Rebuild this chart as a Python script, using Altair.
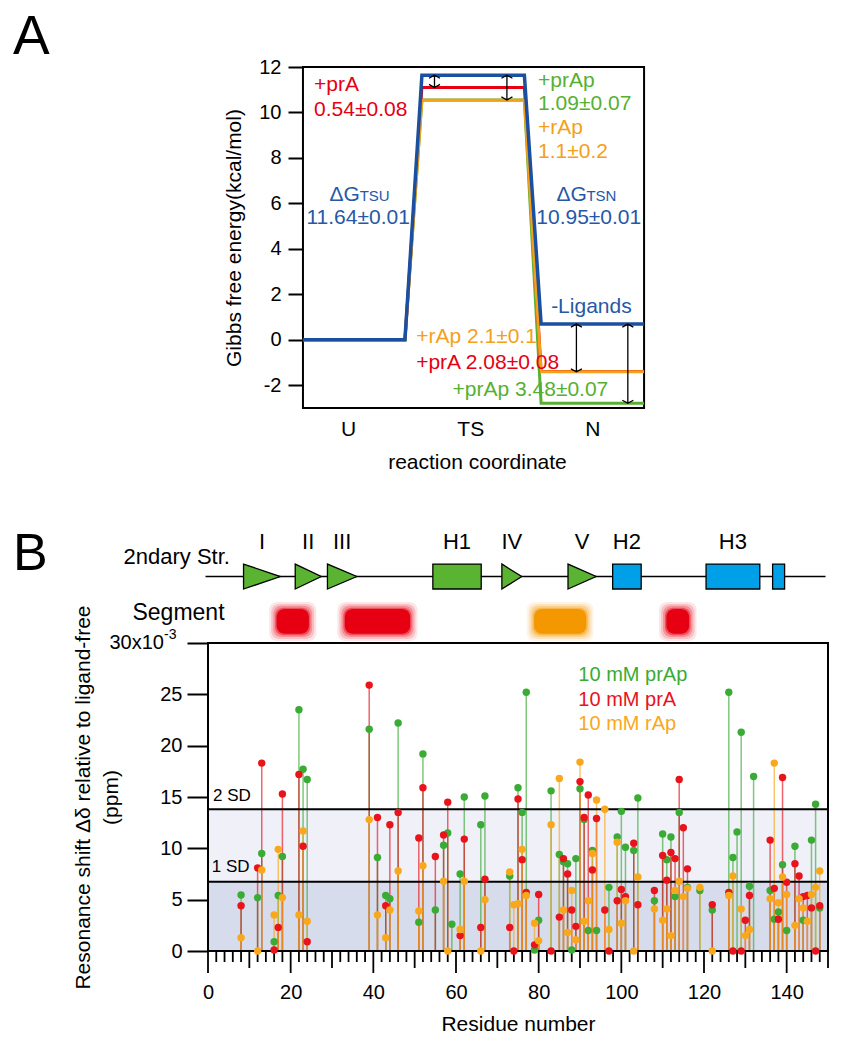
import altair as alt
import pandas as pd

FONT = "Liberation Sans"
BLUE = "#1b4f9f"
BLUE_T = "#2658a8"
RED = "#e60012"
ORANGE = "#f5a01a"
GREEN_A = "#56b031"
GREEN_B = "#3aab35"
ORANGE_B = "#f9a81c"
RED_B = "#e8131b"
HELIX_BLUE = "#00a0e9"
STRUCT_GREEN = "#5ab431"

# ---------------- Panel A values ----------------
ligands_A = ["+prAp", "+prA", "+rAp", "-Ligands"]          # drawing order
colors_A = [GREEN_A, RED, ORANGE, BLUE]
widths_A = [3, 3, 3, 3.5]
dG_TSU = 11.64
dG_TSN = 10.95
ddG_TS = [1.09, 0.54, 1.1, 0.0]
ddG_N = [3.48, 2.08, 2.1, 0.0]
profile_x = [0.63, 1.465, 1.604, 2.443, 2.58, 3.423]      # reaction coordinate of profile vertices
state_names = ["U", "TS", "N"]
state_pos = [1, 2, 3]
arrow_x = [1.707, 2.30, 2.869, 3.29]

# ---------------- Panel B values ----------------
residues = [8, 12, 13, 16, 17, 18, 22, 23, 24, 39, 41, 43, 44, 46, 51, 52, 55, 57, 58, 59,
            61, 62, 66, 67, 73, 74, 75, 76, 77, 79, 80, 83, 85, 86, 87, 88, 89, 90, 91, 92,
            93, 94, 96, 97, 99, 100, 101, 103, 104, 108, 110, 111, 112, 113, 114, 115, 116, 119, 122, 126,
            127, 128, 129, 130, 131, 132, 136, 137, 138, 139, 140, 142, 143, 144, 145, 146, 147, 148]
shift_prAp = [5.45, 5.2, 9.5, 0.9, 5.4, 9.2, 23.5, 17.7, 16.7, 21.6, 9.1, 5.4, 5.1, 22.2, 2.8, 19.2, 4.0, 10.3, 11.5, 2.6,
              7.5, 15.0, 12.3, 15.1, 7.3, None, 15.9, 13.5, 25.2, 0.1, 3.0, 15.6, 9.4, 8.7, 8.5, 0.1, 9.0, 15.8, 12.8, 2.0,
              9.8, 2.0, None, 6.2, 11.1, 13.6, 10.1, 9.8, 14.9, 4.9, 11.4, 8.9, 11.1, 5.3, 13.5, None, 6.2, 5.9, 4.0, 25.2,
              9.1, 11.6, 21.3, None, 6.3, 17.0, 5.9, 3.1, 3.8, 8.4, 2.0, 10.2, None, 3.0, None, 10.8, 14.3, 4.2]
shift_prA = [4.4, 8.1, 18.3, 0.1, 2.3, 15.3, 17.2, 10.2, 0.9, 25.9, 13.0, 4.4, 12.3, 13.5, 11.0, 15.9, 9.2, 11.3, 14.5, None,
             1.5, 10.9, 2.3, 7.0, 2.3, 0.0, 14.8, 8.9, 5.7, 0.6, 5.5, 0.0, 3.3, 9.0, 7.5, 4.0, 2.4, 16.5, 13.0, 15.2,
             7.9, 12.9, 4.0, 0.0, 4.9, 6.0, 5.3, 10.5, 4.5, 5.9, 9.3, 6.9, 9.6, 9.0, 16.7, 12.0, 8.0, None, 4.5, 5.7,
             0.0, None, 0.0, 3.0, 5.4, None, 10.8, 6.1, 3.1, 16.9, 6.7, 8.5, 7.3, 5.3, 5.4, 4.2, 0.0, 4.4]
shift_rAp = [1.3, 0.0, 7.9, 3.5, 9.9, 5.2, 3.5, 11.7, 2.9, 12.8, 3.5, 1.3, 4.0, 7.8, 3.9, 8.3, None, 6.8, 0.0, None,
             2.1, 6.8, 0.0, 5.0, 7.7, 4.5, 4.6, 9.9, 5.4, 2.7, 1.0, 12.3, 16.8, 4.0, 1.8, 5.9, 1.1, 18.4, 2.9, 4.9,
             9.5, 14.7, 13.8, 2.1, 10.6, 2.7, 4.9, 0.0, 7.2, 4.1, 3.0, 4.1, 1.5, 5.9, 6.8, 5.3, 6.1, 6.2, 0.0, 5.4,
             7.3, None, 4.1, 1.5, 2.1, None, 5.1, 18.3, 4.7, 7.2, 5.5, 2.5, 5.1, 4.2, 2.9, 5.5, 6.2, 7.8]
ligands_B = ["10 mM prAp", "10 mM prA", "10 mM rAp"]
colors_B = [GREEN_B, RED_B, ORANGE_B]
sd1 = 6.75
sd2 = 13.8
residue_ticks = list(range(0, 151, 2))
residue_labels = list(range(0, 141, 20))
shift_ticks = list(range(0, 31, 5))

strand_names = ["I", "II", "III", "IV", "V"]
strand_start = [8.6, 21.1, 28.9, 71.1, 87.1]
strand_end = [17.5, 27.4, 36.0, 75.9, 93.9]
helix_names = ["H1", "H2", "H3", ""]
helix_start = [54.4, 97.9, 120.5, 136.6]
helix_end = [66.1, 104.8, 133.5, 139.5]
helix_colors = [STRUCT_GREEN, HELIX_BLUE, HELIX_BLUE, HELIX_BLUE]
seg_start = [15.7, 32.2, 78.0, 110.0]
seg_end = [25.3, 49.8, 92.4, 117.3]
seg_colors = [RED, RED, "#f39800", RED]


def texts(rows, xs, ys, align="left", baseline="middle"):
    df = pd.DataFrame(rows, columns=["t", "x", "y", "c", "fs"])
    return alt.Chart(df).mark_text(align=align, baseline=baseline, font=FONT).encode(
        x=alt.X("x:Q", scale=xs),
        y=alt.Y("y:Q", scale=ys),
        text="t:N",
        color=alt.Color("c:N", scale=None),
        size=alt.Size("fs:Q", scale=None),
    )


# ======================= Panel A =======================
xsA = alt.Scale(domain=[-0.1475, 4.929], nice=False, zero=False)
ysA = alt.Scale(domain=[-3, 12], nice=False, zero=False)

frameA = alt.Chart(pd.DataFrame({"x": [profile_x[0]], "x2": [profile_x[-1]], "y": [-3], "y2": [12]})).mark_rect(
    filled=False, stroke="black", strokeWidth=2
).encode(
    x=alt.X("x:Q", scale=xsA, axis=alt.Axis(
        values=state_pos, labelExpr=f"{state_names}[datum.value - 1]", ticks=False, domain=False,
        labelPadding=10, labelFontSize=21, title="reaction coordinate", titleFontSize=21,
        titleX=269, titleY=54, titleBaseline="middle", grid=False)),
    x2="x2:Q",
    y=alt.Y("y:Q", scale=ysA, axis=alt.Axis(
        values=list(range(-2, 13, 2)), labelExpr="'' + datum.value", offset=-95, tickSize=15, tickWidth=2,
        domain=False, labelPadding=7, labelFontSize=20, title="Gibbs free energy(kcal/mol)", titleFontSize=21,
        titlePadding=14, grid=False)),
    y2="y2:Q",
)

line_layers = []
for lig, col, w, dts, dn in zip(ligands_A, colors_A, widths_A, ddG_TS, ddG_N):
    ts = dG_TSU - dts
    n = dG_TSU - dG_TSN - dn
    energies = [0, 0, ts, ts, n, n]
    df = pd.DataFrame({"x": profile_x, "y": energies, "k": range(6)})
    line_layers.append(alt.Chart(df).mark_line(color=col, strokeWidth=w, strokeJoin="miter").encode(
        x=alt.X("x:Q", scale=xsA), y=alt.Y("y:Q", scale=ysA), order="k:Q"))

blue_N = dG_TSU - dG_TSN
arrow_top = [dG_TSU, dG_TSU, blue_N, blue_N]
arrow_bot = [dG_TSU - ddG_TS[1], dG_TSU - ddG_TS[0], blue_N - ddG_N[2], blue_N - ddG_N[0]]
arr = pd.DataFrame({"x": arrow_x, "y": arrow_top, "y2": arrow_bot})
arrow_rules = alt.Chart(arr).mark_rule(color="black", strokeWidth=1.3).encode(
    x=alt.X("x:Q", scale=xsA), y=alt.Y("y:Q", scale=ysA), y2="y2:Q")
arrow_up = alt.Chart(arr).mark_point(shape="M-1,0.55L0,0L1,0.55", filled=False, stroke="black",
                                     strokeWidth=1.3, size=121, opacity=1).encode(
    x=alt.X("x:Q", scale=xsA), y=alt.Y("y:Q", scale=ysA))
arrow_dn = alt.Chart(arr).mark_point(shape="M-1,-0.55L0,0L1,-0.55", filled=False, stroke="black",
                                     strokeWidth=1.3, size=121, opacity=1).encode(
    x=alt.X("x:Q", scale=xsA), y=alt.Y("y2:Q", scale=ysA))

labA_left = [
    ("+prA", 0.721, 11.19, RED, 21),
    ("0.54±0.08", 0.721, 10.12, RED, 21),
    ("+prAp", 2.555, 11.38, GREEN_A, 21),
    ("1.09±0.07", 2.555, 10.38, GREEN_A, 21),
    ("+rAp", 2.555, 9.31, ORANGE, 21),
    ("1.1±0.2", 2.555, 8.26, ORANGE, 21),
    ("-Ligands", 2.662, 1.43, BLUE_T, 21),
    ("+rAp 2.1±0.1", 1.557, 0.13, ORANGE, 21),
    ("+prA 2.08±0.08", 1.557, -1.0, RED, 21),
    ("+prAp 3.48±0.07", 1.855, -2.2, GREEN_A, 21),
]
labA_center = [
    ("11.64±0.01", 1.082, 5.36, BLUE_T, 21),
    ("10.95±0.01", 2.97, 5.36, BLUE_T, 21),
]
labA_dg = [
    ("ΔG", 0.847, 6.12, BLUE_T, 21),
    ("TSU", 1.094, 6.12, BLUE_T, 15),
    ("ΔG", 2.705, 6.12, BLUE_T, 21),
    ("TSN", 2.951, 6.12, BLUE_T, 15),
]
letterA = alt.Chart(pd.DataFrame({"t": ["A"]})).mark_text(
    align="left", baseline="alphabetic", font=FONT, fontSize=55, color="black").encode(
    text="t:N", x=alt.value(-195), y=alt.value(-13))

panelA = alt.layer(
    frameA, *line_layers, arrow_rules, arrow_up, arrow_dn,
    texts(labA_left, xsA, ysA), texts(labA_center, xsA, ysA, align="center"),
    texts(labA_dg, xsA, ysA, baseline="alphabetic"), letterA,
).properties(width=620, height=341)

# ======================= Panel B =======================
xsB = alt.Scale(domain=[0, 150], nice=False, zero=False)
ysB = alt.Scale(domain=[0, 30], nice=False, zero=False)
H_B = 308

rows = []
for name, vals in zip(ligands_B, [shift_prAp, shift_prA, shift_rAp]):
    for r, v in zip(residues, vals):
        if v is not None:
            rows.append({"x": r, "y": v, "lig": name, "zero": 0})
dfB = pd.DataFrame(rows)
colB = alt.Color("lig:N", scale=alt.Scale(domain=ligands_B, range=colors_B), legend=None)

bands = alt.Chart(pd.DataFrame({"x": [0, 0], "x2": [150, 150], "y": [0, sd1], "y2": [sd1, sd2],
                                "c": ["#d7dcec", "#eff0f8"]})).mark_rect().encode(
    x=alt.X("x:Q", scale=xsB), x2="x2:Q",
    y=alt.Y("y:Q", scale=ysB), y2="y2:Q", fill=alt.Fill("c:N", scale=None))

stems = alt.Chart(dfB).mark_rule(strokeWidth=1.5, opacity=0.65).encode(
    x=alt.X("x:Q", scale=xsB), y=alt.Y("zero:Q", scale=ysB), y2="y:Q", color=colB)

sd_lines = alt.Chart(pd.DataFrame({"y": [sd1, sd2], "x": [0, 0], "x2": [150, 150]})).mark_rule(
    color="black", strokeWidth=2).encode(
    x=alt.X("x:Q", scale=xsB), x2="x2:Q", y=alt.Y("y:Q", scale=ysB))

frameB = alt.Chart(pd.DataFrame({"x": [0], "x2": [150], "y": [0], "y2": [30]})).mark_rect(
    filled=False, stroke="black", strokeWidth=2).encode(
    x=alt.X("x:Q", scale=xsB, axis=alt.Axis(
        values=residue_labels, ticks=False, tickSize=0, domain=False, labelPadding=31, labelFontSize=20,
        labelFlush=False, title="Residue number", titleFontSize=21, titlePadding=11, grid=False)),
    x2="x2:Q",
    y=alt.Y("y:Q", scale=ysB, axis=alt.Axis(
        values=shift_ticks,
        labelExpr=f"datum.value === {shift_ticks[-1]} ? '' : datum.label",
        tickSize=21, tickWidth=2, domain=False, labelPadding=5, labelFontSize=20,
        title=["Resonance shift Δδ relative to ligand-free", "(ppm)"], titleFontSize=21,
        titleLineHeight=28, titleX=-115, titleY=154, grid=False)),
    y2="y2:Q",
)

# residue-axis tick marks: every 2 (short), every 10 (medium), every 20 (long)
tick_layers = []
for cond, length in [(lambda v: v % 10 != 0, 11), (lambda v: v % 10 == 0 and v % 20 != 0, 17),
                     (lambda v: v % 20 == 0, 22)]:
    tdf = pd.DataFrame({"x": [v for v in residue_ticks if cond(v)]})
    tick_layers.append(alt.Chart(tdf).mark_rule(color="black", strokeWidth=1.8).encode(
        x=alt.X("x:Q", scale=xsB), y=alt.value(H_B), y2=alt.value(H_B + length)))

dots = alt.Chart(dfB).mark_circle(size=55, opacity=1).encode(
    x=alt.X("x:Q", scale=xsB), y=alt.Y("y:Q", scale=ysB), color=colB)

legend_rows = [(n, 89.6, yy, c, 20) for n, yy, c in zip(ligands_B, [26.9, 24.4, 22.1], colors_B)]
sd_rows = [("2 SD", 1.2, 15.1, "black", 17), ("1 SD", 0.9, 8.15, "black", 17)]

# secondary structure row (drawn above the plot, same residue scale)
backbone = alt.Chart(pd.DataFrame({"x": [-0.6], "x2": [149.4], "y": [36.48]})).mark_rule(
    color="black", strokeWidth=1.5).encode(
    x=alt.X("x:Q", scale=xsB), x2="x2:Q", y=alt.Y("y:Q", scale=ysB))
tri_rows = []
for nm, s, e in zip(strand_names, strand_start, strand_end):
    tri_rows.append({"n": nm, "x": s, "y": 35.26, "y2": 37.69})
    tri_rows.append({"n": nm, "x": e, "y": 36.475, "y2": 36.475})
strands = alt.Chart(pd.DataFrame(tri_rows)).mark_area(
    color=STRUCT_GREEN, stroke="black", strokeWidth=1.3, opacity=1).encode(
    x=alt.X("x:Q", scale=xsB), y=alt.Y("y:Q", scale=ysB), y2="y2:Q", detail="n:N")
helices = alt.Chart(pd.DataFrame({"x": helix_start, "x2": helix_end, "y": [35.26] * 4, "y2": [37.69] * 4,
                                  "c": helix_colors})).mark_rect(stroke="black", strokeWidth=1.3).encode(
    x=alt.X("x:Q", scale=xsB), x2="x2:Q",
    y=alt.Y("y:Q", scale=ysB), y2="y2:Q", fill=alt.Fill("c:N", scale=None))
struct_labels = [(n, (s + e) / 2, 39.8, "black", 22) for n, s, e in zip(strand_names, strand_start, strand_end)]
struct_labels += [(n, (s + e) / 2, 39.8, "black", 22) for n, s, e in zip(helix_names, helix_start, helix_end) if n]
row_labels = [("2ndary Str.", 5.3, 38.4, "black", 22), ("Segment", 4.0, 32.9, "black", 23)]

seg_layers = []
for grow_x, grow_y, op in [(1.8, 0.7, 0.10), (1.3, 0.5, 0.16), (0.8, 0.32, 0.25), (0.35, 0.14, 0.45), (0.0, 0.0, 1.0)]:
    dseg = pd.DataFrame({"x": [s + 0.9 - grow_x for s in seg_start], "x2": [e - 0.9 + grow_x for e in seg_end],
                         "y": [30.9 - grow_y] * 4, "y2": [33.3 + grow_y] * 4, "c": seg_colors})
    seg_layers.append(alt.Chart(dseg).mark_rect(cornerRadius=8, opacity=op).encode(
        x=alt.X("x:Q", scale=xsB), x2="x2:Q",
        y=alt.Y("y:Q", scale=ysB), y2="y2:Q", fill=alt.Fill("c:N", scale=None)))

# top tick label "30x10^-3" written as a base + superscript
top_label = alt.Chart(pd.DataFrame({"t": [f"{shift_ticks[-1]}x10"], "y": [shift_ticks[-1]]})).mark_text(
    align="right", baseline="middle", font=FONT, fontSize=20, color="black").encode(
    text="t:N", x=alt.value(-44), y=alt.Y("y:Q", scale=ysB))
sup = alt.Chart(pd.DataFrame({"t": ["-3"]})).mark_text(
    align="left", baseline="middle", font=FONT, fontSize=14, color="black").encode(
    text="t:N", x=alt.value(-44), y=alt.value(-8))
letterB = alt.Chart(pd.DataFrame({"t": ["B"]})).mark_text(
    align="left", baseline="alphabetic", font=FONT, fontSize=52, color="black").encode(
    text="t:N", x=alt.value(-195), y=alt.value(-73))

panelB = alt.layer(
    bands, stems, sd_lines, frameB, *tick_layers, dots,
    texts(legend_rows, xsB, ysB), texts(sd_rows, xsB, ysB),
    backbone, strands, helices, *seg_layers,
    texts(struct_labels, xsB, ysB, align="center"), texts(row_labels, xsB, ysB, align="right"),
    top_label, sup, letterB,
).properties(width=620, height=H_B)

chart = alt.vconcat(panelA, panelB, spacing=56).properties(
    padding={"left": 5, "top": 2, "right": 5, "bottom": 5}
).configure_view(stroke=None).configure_axis(
    labelFont=FONT, titleFont=FONT, labelColor="black", titleColor="black",
    tickColor="black", titleFontWeight="normal"
)

chart.save("out.html", embed_options={"renderer": "svg", "actions": False})
